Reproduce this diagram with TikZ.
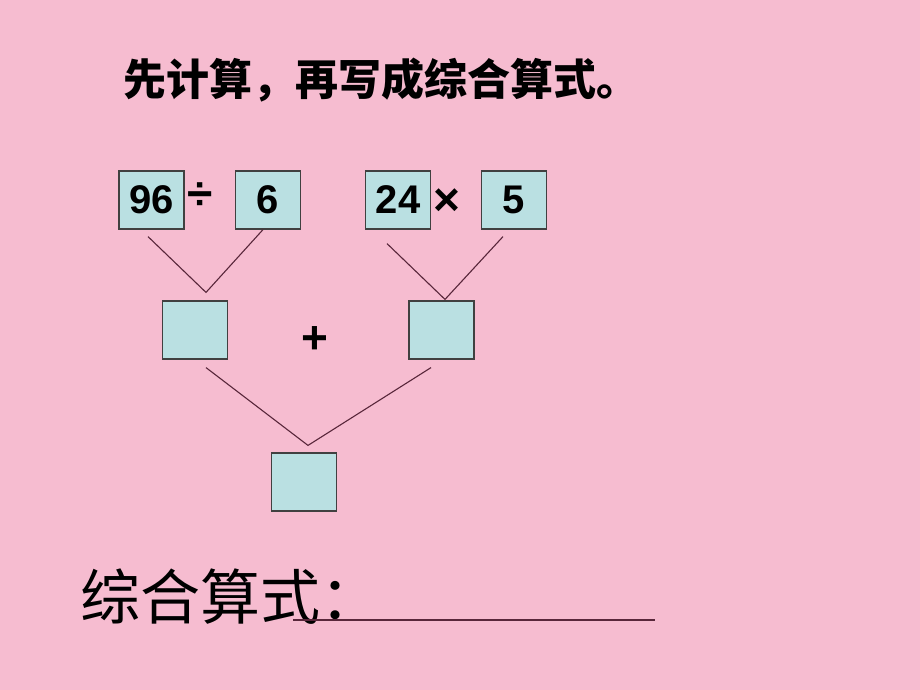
\documentclass[tikz,border=0pt]{standalone}
\usepackage{fontspec}
\setmainfont{Liberation Sans}
\newfontfamily\cjk{Noto Sans CJK SC}
\usetikzlibrary{calc}
\definecolor{bgpink}{RGB}{246,188,208}
\definecolor{boxcyan}{RGB}{186,224,226}
\definecolor{linkcol}{RGB}{88,38,58}
\begin{document}
\begin{tikzpicture}[x=1pt,y=-1pt,
    numbox/.style={draw=black!75,line width=1.2pt,fill=boxcyan,minimum width=65pt,minimum height=58pt,inner sep=0pt,font=\fontsize{40}{40}\selectfont\bfseries},
    op/.style={inner sep=0pt,font=\fontsize{46}{46}\selectfont\bfseries},
    link/.style={draw=linkcol,line width=1.1pt}]
        \fill[bgpink] (0,0) rectangle (920,690);
        \useasboundingbox (0,0) rectangle (920,690);
        \node[anchor=west,inner sep=0pt,font=\cjk\bfseries\fontsize{43}{43}\selectfont] (title) at (123,80) {先计算，再写成综合算式。};
        \foreach \n/\x/\t in {n96/151.5/96,n6/268/6,n24/398/24,n5/514/5} {
            \node[numbox] (\n) at (\x,200) {\t};
        }
        \node[op] (div) at (200,196) {÷};
        \node[op] (mul) at (447,202) {×};
        \node[numbox] (m1) at (195,330) {};
        \node[numbox] (m2) at (441.5,330) {};
        \node[op] (plus) at (315,340) {+};
        \node[numbox] (res) at (304,482) {};
        \draw[link] ($(n96.south)+(-3.5,7)$) -- ($(m1.north)+(11,-8)$) -- ($(n6.south)+(-5,0)$);
        \draw[link] ($(n24.south)+(-11,14)$) -- ($(m2.north)+(3.5,-1)$) -- ($(n5.south)+(-11,7)$);
        \draw[link] ($(m1.south)+(11,8)$) -- ($(res.north)+(4,-7)$) -- ($(m2.south)+(-10.5,8)$);
        \node[anchor=west,inner sep=0pt,font=\cjk\fontsize{60}{60}\selectfont] (sum) at (80,597) {综合算式：};
        \coordinate (ula) at (293,620);
        \coordinate (ulb) at (655,620);
        \draw[link] (ula) -- (ulb);
    \end{tikzpicture}
\end{document}
